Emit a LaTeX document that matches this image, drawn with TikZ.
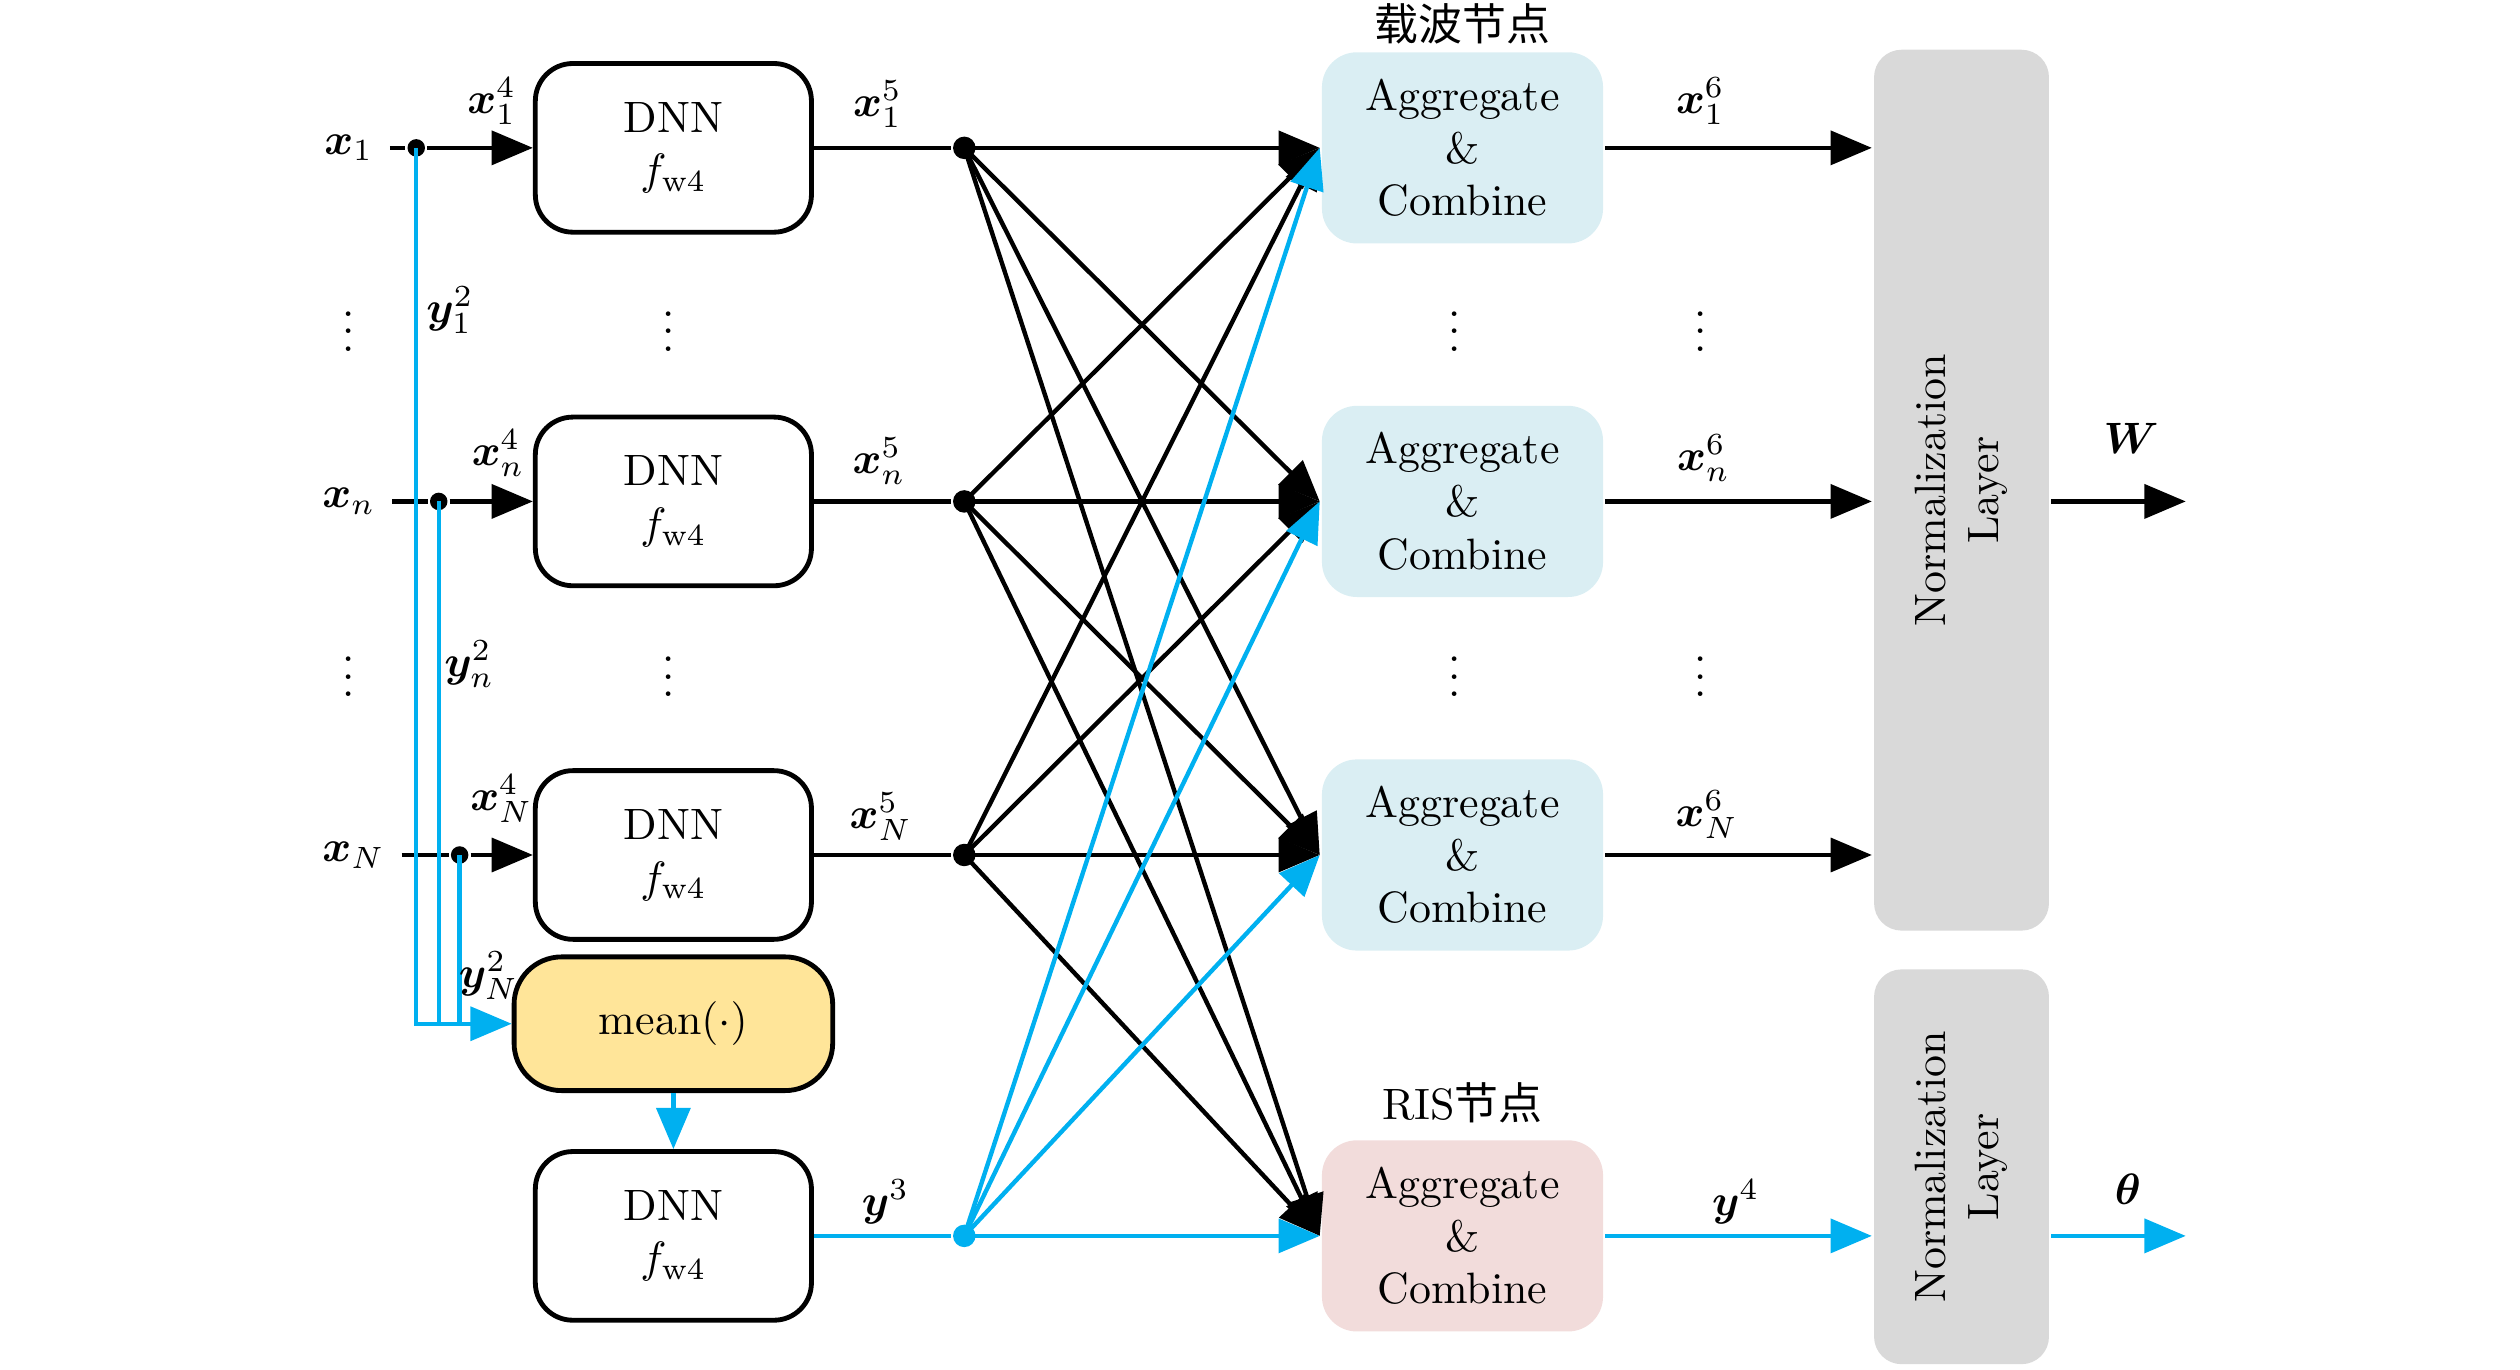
\documentclass[tikz,border=0pt]{standalone}
\usepackage{amsmath,amssymb,bm}
\usepackage{fontspec}
\newfontfamily\cjk{Noto Sans CJK SC}
\usepackage{tikz}
\usetikzlibrary{arrows.meta,positioning,calc}
\definecolor{lineblue}{RGB}{0,176,240}
\definecolor{meanyellow}{RGB}{255,229,153}
\definecolor{aggblue}{RGB}{218,238,243}
\definecolor{aggred}{RGB}{242,220,219}
\definecolor{normgray}{RGB}{217,217,217}

\begin{document}
\begin{tikzpicture}[x=0.012857cm,y=-0.012857cm,line width=1pt,>={Triangle[length=3.3mm,width=2.7mm]}]
  \tikzstyle{dnn}=[draw,line width=1.1pt,rounded corners=0.3cm,minimum width=2.21cm,minimum height=1.35cm,align=center,fill=white]
  \tikzstyle{agg}=[rounded corners=0.28cm,minimum width=2.25cm,minimum height=1.53cm,align=center,fill=aggblue]
  \tikzstyle{norm}=[rounded corners=0.22cm,minimum width=1.4cm,fill=normgray]
  \tikzstyle{bigdot}=[circle,fill,inner sep=0pt,minimum size=1.8mm]
  \tikzstyle{smalldot}=[circle,fill,inner sep=0pt,minimum size=1.4mm]
  \useasboundingbox (0,0) rectangle (1568,852);

  % input side
  \node (in1) at (217,92) {$\bm{x}_1$};
  \node (inn) at (217,312) {$\bm{x}_n$};
  \node (inN) at (220,532) {$\bm{x}_N$};
  \node[dnn] (dnn1) at (419,92) {DNN\\$f_{\mathrm{w}4}$};
  \node[dnn] (dnnn) at (419,312) {DNN\\$f_{\mathrm{w}4}$};
  \node[dnn] (dnnN) at (419,532) {DNN\\$f_{\mathrm{w}4}$};
  \node[dnn,fill=meanyellow,rounded corners=0.38cm,minimum width=2.55cm,minimum height=1.07cm] (mean) at (419,637) {mean$(\cdot)$};
  \node[dnn] (dnnR) at (419,769) {DNN\\$f_{\mathrm{w}4}$};
  \node[smalldot] (b1) at (259,92) {};
  \node[smalldot] (bn) at (273,312) {};
  \node[smalldot] (bN) at (286,532) {};

  % aggregation side
  \node[agg] (a1) at (910,92) {Aggregate\\\&\\Combine};
  \node[agg] (an) at (910,312) {Aggregate\\\&\\Combine};
  \node[agg] (aN) at (910,532) {Aggregate\\\&\\Combine};
  \node[agg,fill=aggred] (aR) at (910,769) {Aggregate\\\&\\Combine};
  \node (carrier) at (910,15) {\cjk 载波节点};
  \node (ris) at (910,686) {RIS\cjk 节点};
  \node[bigdot] (s1) at (600,92) {};
  \node[bigdot] (sn) at (600,312) {};
  \node[bigdot] (sN) at (600,532) {};
  \node[bigdot,lineblue] (sy) at (600,769) {};

  % normalization
  \node[norm,minimum height=7.05cm] (norm1) at (1220.5,305) {};
  \node[rotate=90,align=center] (norm1txt) at (norm1) {Normalization\\Layer};
  \node[norm,minimum height=3.16cm] (norm2) at (1220.5,726) {};
  \node[rotate=90,align=center] (norm2txt) at (norm2) {Normalization\\Layer};
  \coordinate (wend) at (1360,312);
  \coordinate (tend) at (1360,769);

  \foreach \x/\n in {217/a,416/b,905/c,1058/d}{
    \node (va\n) at (\x,198) {$\vdots$};
    \node (vb\n) at (\x,413) {$\vdots$};
  }

  % connectors
  \draw (in1) -- (b1); \draw[->] (b1) -- (dnn1);
  \draw (inn) -- (bn); \draw[->] (bn) -- (dnnn);
  \draw (inN) -- (bN); \draw[->] (bN) -- (dnnN);
  \draw[->,lineblue] (b1.center) |- (mean.west);
  \draw[lineblue] (bn.center) -- (bn.center |- mean.west);
  \draw[lineblue] (bN.center) -- (bN.center |- mean.west);
  \draw[->,lineblue] (mean) -- (dnnR);
  \draw (dnn1) -- (s1);
  \draw (dnnn) -- (sn);
  \draw (dnnN) -- (sN);
  \draw[lineblue] (dnnR) -- (sy);
  \foreach \s in {s1,sn,sN}
    \foreach \a in {a1,an,aN,aR}
      \draw[->] (\s.center) -- (\a.west);
  \foreach \a in {a1,an,aN,aR}
    \draw[->,lineblue] (sy.center) -- (\a.west);
  \draw[->] (a1.east) -- (a1.east -| norm1.west);
  \draw[->] (an.east) -- (an.east -| norm1.west);
  \draw[->] (aN.east) -- (aN.east -| norm1.west);
  \draw[->,lineblue] (aR.east) -- (aR.east -| norm2.west);
  \draw[->] (norm1.east |- an) -- (wend);
  \draw[->,lineblue] (norm2.east |- aR) -- (tend);

  % labels
  \node (lx14) at (306,63) {$\bm{x}_1^4$};
  \node (lxn4) at (310,282) {$\bm{x}_n^4$};
  \node (lxN4) at (312,497) {$\bm{x}_N^4$};
  \node (ly12) at (280,193) {$\bm{y}_1^2$};
  \node (lyn2) at (292,413) {$\bm{y}_n^2$};
  \node (lyN2) at (304,607) {$\bm{y}_N^2$};
  \node (lx15) at (546,65) {$\bm{x}_1^5$};
  \node (lxn5) at (547,287) {$\bm{x}_n^5$};
  \node (lxN5) at (548,508) {$\bm{x}_N^5$};
  \node (ly3) at (551,748) {$\bm{y}^3$};
  \node (lx16) at (1058,63) {$\bm{x}_1^6$};
  \node (lxn6) at (1060,285) {$\bm{x}_n^6$};
  \node (lxN6) at (1062,507) {$\bm{x}_N^6$};
  \node (ly4) at (1080,748) {$\bm{y}^4$};
  \node (lw) at (1326,273) {$\bm{W}$};
  \node (lt) at (1324,740) {$\bm{\theta}$};
\end{tikzpicture}
\end{document}
